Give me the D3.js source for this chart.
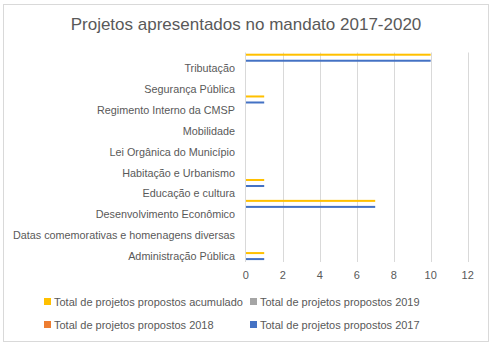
<!DOCTYPE html>
<html>
<head>
<meta charset="utf-8">
<script src="https://cdn.jsdelivr.net/npm/d3@7"></script>
<style>
  body { margin: 0; background: #fff; }
  text { font-family: "Liberation Sans", Arial, sans-serif; fill: #595959; }
</style>
</head>
<body>
<svg id="chart" width="493" height="347"></svg>
<script>
// categories top to bottom; Excel only prints every second label, the blank ones are unnamed
var categories = [ "", "Tributação", "", "Segurança Pública", "", "Regimento Interno da CMSP",
  "", "Mobilidade", "", "Lei Orgânica do Município", "", "Habitação e Urbanismo",
  "", "Educação e cultura", "", "Desenvolvimento Econômico", "",
  "Datas comemorativas e homenagens diversas", "", "Administração Pública" ];

var acumulado = [ 10, 0, 0, 0, 1, 0, 0, 0, 0, 0, 0, 0, 1, 0, 7, 0, 0, 0, 0, 1 ];
var total2019 = [ 0, 0, 0, 0, 0, 0, 0, 0, 0, 0, 0, 0, 0, 0, 0, 0, 0, 0, 0, 0 ];
var total2018 = [ 0, 0, 0, 0, 0, 0, 0, 0, 0, 0, 0, 0, 0, 0, 0, 0, 0, 0, 0, 0 ];
var total2017 = [ 10, 0, 0, 0, 1, 0, 0, 0, 0, 0, 0, 0, 1, 0, 7, 0, 0, 0, 0, 1 ];

var seriesNames = [ "Total de projetos propostos acumulado", "Total de projetos propostos 2019",
  "Total de projetos propostos 2018", "Total de projetos propostos 2017" ];
var seriesValues = [ acumulado, total2019, total2018, total2017 ];
var seriesColors = [ "#FFC000", "#A5A5A5", "#ED7D31", "#4472C4" ];
var xTicks = [ 0, 2, 4, 6, 8, 10, 12 ];

var svg = d3.select( "#chart" );

svg.append( "rect" )
  .attr( "x", 3.5 ).attr( "y", 4.5 )
  .attr( "width", 485 ).attr( "height", 337 )
  .style( "fill", "#fff" )
  .style( "stroke", "#d9d9d9" );

svg.append( "text" )
  .attr( "x", 246 ).attr( "y", 30 )
  .attr( "text-anchor", "middle" )
  .style( "font-size", "17px" )
  .text( "Projetos apresentados no mandato 2017-2020" );

var x = d3.scaleLinear().domain( [ 0, 12 ] ).range( [ 245.7, 467.7 ] );
var y = d3.scaleBand().domain( d3.range( categories.length ) ).range( [ 52.5, 261.3 ] );
var y1 = d3.scaleBand().domain( d3.range( seriesNames.length ) )
  .range( [ 0, y.bandwidth() ] ).paddingOuter( 0.6 );

var plotTop = 52.5, plotBottom = 262;

// gridlines
svg.append( "g" )
  .selectAll( "line" )
  .data( xTicks.slice( 1 ) )
  .enter().append( "line" )
  .attr( "x1", function( d ){ return Math.round( x( d ) ) + 0.5; } )
  .attr( "x2", function( d ){ return Math.round( x( d ) ) + 0.5; } )
  .attr( "y1", plotTop ).attr( "y2", plotBottom )
  .style( "stroke", "#d9d9d9" );

// bars, one group per series
seriesValues.forEach( function( values, s ){
  var rows = values.map( function( v, i ){ return { index: i, value: v }; } )
    .filter( function( d ){ return d.value > 0; } );

  svg.append( "g" )
    .selectAll( "rect" )
    .data( rows )
    .enter().append( "rect" )
    .attr( "x", x( 0 ) )
    .attr( "y", function( d ){ return y( d.index ) + y1( s ); } )
    .attr( "width", function( d ){ return x( d.value ) - x( 0 ); } )
    .attr( "height", y1.bandwidth() )
    .style( "fill", seriesColors[ s ] );
} );

// category axis line
svg.append( "line" )
  .attr( "x1", Math.round( x( 0 ) ) - 0.5 ).attr( "x2", Math.round( x( 0 ) ) - 0.5 )
  .attr( "y1", plotTop ).attr( "y2", plotBottom )
  .style( "stroke", "#d9d9d9" );

// category labels
svg.append( "g" )
  .selectAll( "text" )
  .data( categories )
  .enter().append( "text" )
  .attr( "x", 235 )
  .attr( "y", function( d, i ){ return y( i ) + y.bandwidth() / 2 + 4; } )
  .attr( "text-anchor", "end" )
  .style( "font-size", "10.8px" )
  .text( function( d ){ return d; } );

// value axis labels
svg.append( "g" )
  .selectAll( "text" )
  .data( xTicks )
  .enter().append( "text" )
  .attr( "x", function( d ){ return x( d ); } )
  .attr( "y", 279 )
  .attr( "text-anchor", "middle" )
  .style( "font-size", "11px" )
  .text( function( d ){ return d; } );

// legend, two columns
var legendPos = [ [ 44, 302 ], [ 250, 302 ], [ 44, 325 ], [ 250, 325 ] ];
var legend = svg.append( "g" )
  .selectAll( "g" )
  .data( seriesNames )
  .enter().append( "g" )
  .attr( "transform", function( d, i ){ return "translate(" + legendPos[ i ][ 0 ] + "," + legendPos[ i ][ 1 ] + ")"; } );

legend.append( "rect" )
  .attr( "x", 0 ).attr( "y", -4 )
  .attr( "width", 7 ).attr( "height", 7 )
  .style( "fill", function( d, i ){ return seriesColors[ i ]; } );

legend.append( "text" )
  .attr( "x", 10 ).attr( "y", 4 )
  .style( "font-size", "11px" )
  .text( function( d ){ return d; } );
</script>
</body>
</html>
